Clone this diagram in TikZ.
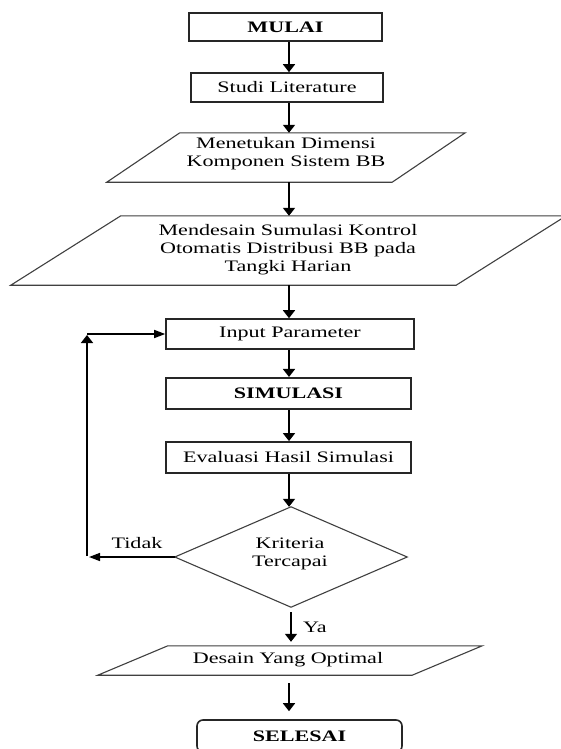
\documentclass[tikz,border=0pt]{standalone}
\usepackage{fontspec}
\setmainfont{Liberation Serif}[FakeStretch=1.38]
\usetikzlibrary{arrows.meta,calc}
\begin{document}
\begin{tikzpicture}[x=1pt,y=-1pt,
  txt/.style={font=\fontsize{16}{18}\selectfont, align=center, inner sep=0pt, text=black},
  btxt/.style={font=\fontsize{16}{18}\selectfont\bfseries, align=center, inner sep=0pt, text=black},
  box/.style={draw=black!85, line width=1.6pt, inner sep=0pt},
  thickbox/.style={box, line width=2.1pt},
  geo/.style={inner sep=0pt, draw=none},
  para/.style={draw=black!75, line width=1.1pt},
  arrv/.style={draw=black, line width=1.7pt, -{Triangle[length=8pt,width=12pt]}},
  arrh/.style={draw=black, line width=1.5pt, -{Triangle[length=11pt,width=8pt]}}]
\useasboundingbox[fill=white] (0,0) rectangle (561,749);
% axis coordinates
\coordinate (ax) at (289,0);
\coordinate (bx) at (291,0);
% nodes
\node[thickbox, btxt, minimum width=193pt, minimum height=28pt] (mulai) at (285.5,27) {MULAI};
\node[box, txt, minimum width=192pt, minimum height=29pt] (studi) at (287,87.5) {Studi Literature};
\node[geo, minimum width=358pt, minimum height=49pt] (p1) at (286,157.5) {};
\draw[para] ($(p1.north west)+(73,0)$) -- (p1.north east) -- ($(p1.south east)-(73,0)$) -- (p1.south west) -- cycle;
\node[txt] (p1t) at (286,154) {Menetukan Dimensi\\Komponen Sistem BB};
\node[geo, minimum width=555pt, minimum height=69pt] (p2) at (288.5,250.5) {};
\draw[para] ($(p2.north west)+(110,0)$) -- (p2.north east) -- ($(p2.south east)-(110,0)$) -- (p2.south west) -- cycle;
\node[txt] (p2t) at (288,249.5) {Mendesain Sumulasi Kontrol\\Otomatis Distribusi BB pada\\Tangki Harian};
\node[box, txt, minimum width=248pt, minimum height=30pt] (input) at (290,334) {Input Parameter};
\node[thickbox, btxt, minimum width=245pt, minimum height=31pt] (sim) at (288.5,393.5) {SIMULASI};
\node[box, txt, line width=1.8pt, minimum width=245pt, minimum height=31pt] (eval) at (288.5,457.5) {Evaluasi Hasil Simulasi};
\node[geo, minimum width=232pt, minimum height=100pt] (dia) at (291,557) {};
\draw[para] (dia.north) -- (dia.east) -- (dia.south) -- (dia.west) -- cycle;
\node[txt] (diat) at (290,554) {Kriteria\\Tercapai};
\node[geo, minimum width=384pt, minimum height=29pt] (p3) at (290,660.5) {};
\draw[para] ($(p3.north west)+(70,0)$) -- (p3.north east) -- ($(p3.south east)-(70,0)$) -- (p3.south west) -- cycle;
\node[txt] (p3t) at (288,660) {Desain Yang Optimal};
\node[box, btxt, rounded corners=6pt, minimum width=205pt, minimum height=32pt] (sel) at (299.5,736) {SELESAI};
\node[txt] (tidak) at (137,543) {Tidak};
\node[txt] (ya) at (315,627) {Ya};
% connectors
\draw[arrv] (mulai.south -| ax) -- (studi.north -| ax);
\draw[arrv] (studi.south -| ax) -- (p1.north -| ax);
\draw[arrv] (p1.south -| ax) -- (p2.north -| ax);
\draw[arrv] (p2.south -| ax) -- (input.north -| ax);
\draw[arrv] (input.south -| ax) -- (sim.north -| ax);
\draw[arrv] (sim.south -| ax) -- (eval.north -| ax);
\draw[arrv] (eval.south -| ax) -- (dia.north -| ax);
\draw[arrv, shorten <=5pt, shorten >=4pt] (dia.south -| bx) -- (p3.north -| bx);
\draw[arrv, shorten <=8pt, shorten >=8pt] (p3.south -| ax) -- (sel.north -| ax);
% loop back
\coordinate (tl) at (89,557);
\coordinate (lb) at (87,556);
\coordinate (lt) at (87,335);
\draw[arrh] (dia.west) -- (tl);
\draw[arrv] (lb) -- (lt);
\draw[arrh] (input.west -| lt) -- (input.west);
\end{tikzpicture}
\end{document}
